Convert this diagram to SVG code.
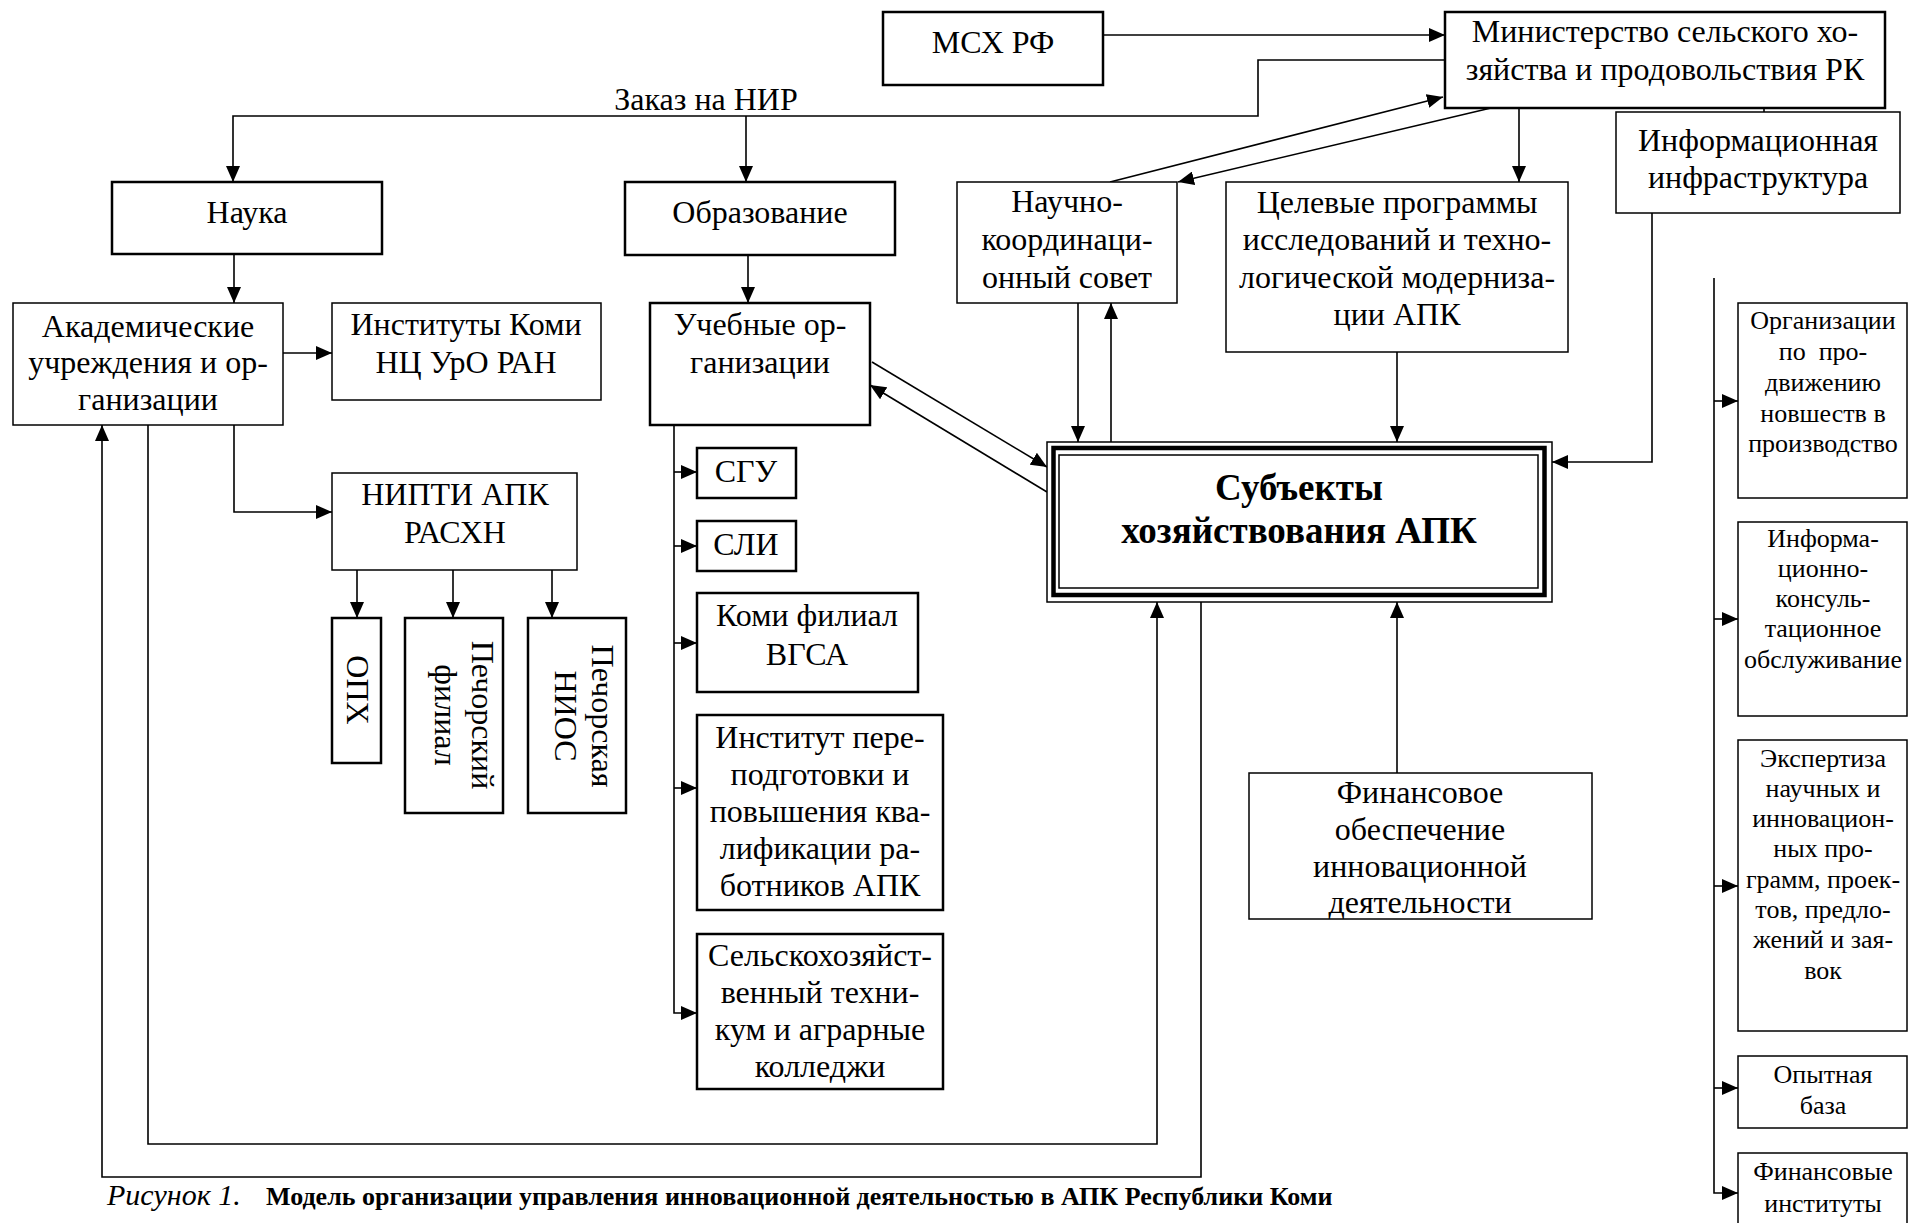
<svg xmlns="http://www.w3.org/2000/svg" width="1910" height="1223" viewBox="0 0 1910 1223">
<defs>
<style>
.b{fill:#fff;stroke:#000;stroke-width:1.5}
.bt{fill:#fff;stroke:#000;stroke-width:2.5}
.t{font-family:"Liberation Serif","Times New Roman",serif;font-size:32px;text-anchor:middle;fill:#000}
.r{font-family:"Liberation Serif","Times New Roman",serif;font-size:26px;text-anchor:middle;fill:#000}
.h{font-family:"Liberation Serif","Times New Roman",serif;font-size:37px;font-weight:bold;text-anchor:middle;fill:#000}
.c{fill:none;stroke:#000;stroke-width:1.6}
.cap{font-family:"Liberation Serif","Times New Roman",serif;font-size:26px;fill:#000}
.capi{font-family:"Liberation Serif","Times New Roman",serif;font-size:30px;font-style:italic;fill:#000}
</style>
<marker id="a" markerUnits="userSpaceOnUse" markerWidth="16" markerHeight="14" refX="16" refY="7" orient="auto">
<path d="M0,0 L16,7 L0,14 z" fill="#000"/>
</marker>
</defs>
<rect width="1910" height="1223" fill="#fff"/>

<g id="connectors">
<path class="c" d="M1103,35 H1445" marker-end="url(#a)"/>
<path class="c" d="M1445,60 H1258 V116 H233 V182" marker-end="url(#a)"/>
<path class="c" d="M746,116 V182" marker-end="url(#a)"/>
<path class="c" d="M1110,182 L1443,97" marker-end="url(#a)"/>
<path class="c" d="M1491,108 L1178,182" marker-end="url(#a)"/>
<path class="c" d="M1519,108 V182" marker-end="url(#a)"/>
<path class="c" d="M1764,108 V112"/>
<path class="c" d="M1078,303 V442" marker-end="url(#a)"/>
<path class="c" d="M1111,442 V303" marker-end="url(#a)"/>
<path class="c" d="M1397,352 V442" marker-end="url(#a)"/>
<path class="c" d="M1652,213 V462 H1552" marker-end="url(#a)"/>
<path class="c" d="M1397,773 V602" marker-end="url(#a)"/>
<path class="c" d="M872,362 L1047,467" marker-end="url(#a)"/>
<path class="c" d="M1047,492 L870,385" marker-end="url(#a)"/>
<path class="c" d="M1201,602 V1177 H102 V425" marker-end="url(#a)"/>
<path class="c" d="M148,425 V1144 H1157 V602" marker-end="url(#a)"/>
<path class="c" d="M234,254 V303" marker-end="url(#a)"/>
<path class="c" d="M283,353 H332" marker-end="url(#a)"/>
<path class="c" d="M234,425 V512 H332" marker-end="url(#a)"/>
<path class="c" d="M357,570 V618" marker-end="url(#a)"/>
<path class="c" d="M453,570 V618" marker-end="url(#a)"/>
<path class="c" d="M552,570 V618" marker-end="url(#a)"/>
<path class="c" d="M748,255 V303" marker-end="url(#a)"/>
<path class="c" d="M674,425 V1013 H697" marker-end="url(#a)"/>
<path class="c" d="M674,472 H697" marker-end="url(#a)"/>
<path class="c" d="M674,546 H697" marker-end="url(#a)"/>
<path class="c" d="M674,643 H697" marker-end="url(#a)"/>
<path class="c" d="M674,788 H697" marker-end="url(#a)"/>
<path class="c" d="M1714,278 V1193 H1738" marker-end="url(#a)"/>
<path class="c" d="M1714,401 H1738" marker-end="url(#a)"/>
<path class="c" d="M1714,619 H1738" marker-end="url(#a)"/>
<path class="c" d="M1714,886 H1738" marker-end="url(#a)"/>
<path class="c" d="M1714,1088 H1738" marker-end="url(#a)"/>
</g>

<text class="t" x="706" y="110">Заказ на НИР</text>

<g id="msh-rf">
<rect class="bt" x="883" y="12" width="220" height="73"/>
<text class="t" x="993" y="53">МСХ РФ</text>
</g>
<g id="ministry">
<rect class="bt" x="1445" y="12" width="440" height="96"/>
<text class="t" x="1665" y="42">Министерство сельского хо-</text>
<text class="t" x="1665" y="80">зяйства и продовольствия РК</text>
</g>
<g id="info-infra">
<rect class="b" x="1616" y="112" width="284" height="101"/>
<text class="t" x="1758" y="151">Информационная</text>
<text class="t" x="1758" y="188">инфраструктура</text>
</g>
<g id="nauka">
<rect class="bt" x="112" y="182" width="270" height="72"/>
<text class="t" x="247" y="223">Наука</text>
</g>
<g id="obrazovanie">
<rect class="bt" x="625" y="182" width="270" height="73"/>
<text class="t" x="760" y="223">Образование</text>
</g>
<g id="nks">
<rect class="b" x="957" y="182" width="220" height="121"/>
<text class="t" x="1067" y="212">Научно-</text>
<text class="t" x="1067" y="250">координаци-</text>
<text class="t" x="1067" y="288">онный совет</text>
</g>
<g id="programs">
<rect class="b" x="1226" y="182" width="342" height="170"/>
<text class="t" x="1397" y="213">Целевые программы</text>
<text class="t" x="1397" y="250">исследований и техно-</text>
<text class="t" x="1397" y="288">логической модерниза-</text>
<text class="t" x="1397" y="325">ции АПК</text>
</g>
<g id="academ">
<rect class="b" x="13" y="303" width="270" height="122"/>
<text class="t" x="148" y="337">Академические</text>
<text class="t" x="148" y="373">учреждения и ор-</text>
<text class="t" x="148" y="410">ганизации</text>
</g>
<g id="komi-inst">
<rect class="b" x="332" y="303" width="269" height="97"/>
<text class="t" x="466" y="335">Институты Коми</text>
<text class="t" x="466" y="373">НЦ УрО РАН</text>
</g>
<g id="ucheb">
<rect class="bt" x="650" y="303" width="220" height="122"/>
<text class="t" x="760" y="335">Учебные ор-</text>
<text class="t" x="760" y="373">ганизации</text>
</g>
<g id="nipti">
<rect class="b" x="332" y="473" width="245" height="97"/>
<text class="t" x="455" y="505">НИПТИ АПК</text>
<text class="t" x="455" y="543">РАСХН</text>
</g>
<g id="oph">
<rect class="bt" x="332" y="618" width="49" height="145"/>
<text class="t" transform="translate(347,690) rotate(90)">ОПХ</text>
</g>
<g id="pech-fil">
<rect class="bt" x="405" y="618" width="98" height="195"/>
<text class="t" transform="translate(472,715) rotate(90)">Печорский</text>
<text class="t" transform="translate(435,715) rotate(90)">филиал</text>
</g>
<g id="pech-nios">
<rect class="bt" x="528" y="618" width="98" height="195"/>
<text class="t" transform="translate(592,716) rotate(90)">Печорская</text>
<text class="t" transform="translate(555,716) rotate(90)">НИОС</text>
</g>
<g id="sgu">
<rect class="bt" x="697" y="448" width="99" height="50"/>
<text class="t" x="746" y="482">СГУ</text>
</g>
<g id="sli">
<rect class="bt" x="697" y="521" width="99" height="50"/>
<text class="t" x="746" y="555">СЛИ</text>
</g>
<g id="vgsa">
<rect class="bt" x="697" y="593" width="221" height="99"/>
<text class="t" x="807" y="626">Коми филиал</text>
<text class="t" x="807" y="665">ВГСА</text>
</g>
<g id="inst-perepodg">
<rect class="bt" x="697" y="715" width="246" height="195"/>
<text class="t" x="820" y="748">Институт пере-</text>
<text class="t" x="820" y="785">подготовки и</text>
<text class="t" x="820" y="822">повышения ква-</text>
<text class="t" x="820" y="859">лификации ра-</text>
<text class="t" x="820" y="896">ботников АПК</text>
</g>
<g id="tehnikum">
<rect class="bt" x="697" y="934" width="246" height="155"/>
<text class="t" x="820" y="966">Сельскохозяйст-</text>
<text class="t" x="820" y="1003">венный техни-</text>
<text class="t" x="820" y="1040">кум и аграрные</text>
<text class="t" x="820" y="1077">колледжи</text>
</g>
<g id="subjects">
<rect x="1047" y="442" width="505" height="160" fill="#fff" stroke="#000" stroke-width="1.5"/>
<rect x="1053.5" y="448" width="491" height="147" fill="none" stroke="#000" stroke-width="4.5"/>
<rect x="1059" y="455" width="479" height="133" fill="none" stroke="#000" stroke-width="1.5"/>
<text class="h" x="1299" y="500">Субъекты</text>
<text class="h" x="1299" y="543">хозяйствования АПК</text>
</g>
<g id="finance">
<rect class="b" x="1249" y="773" width="343" height="146"/>
<text class="t" x="1420" y="803">Финансовое</text>
<text class="t" x="1420" y="840">обеспечение</text>
<text class="t" x="1420" y="877">инновационной</text>
<text class="t" x="1420" y="913">деятельности</text>
</g>
<g id="promo">
<rect class="b" x="1738" y="303" width="169" height="195"/>
<text class="r" x="1823" y="329">Организации</text>
<text class="r" x="1823" y="360">по&#160; про-</text>
<text class="r" x="1823" y="391">движению</text>
<text class="r" x="1823" y="422">новшеств в</text>
<text class="r" x="1823" y="452">производство</text>
</g>
<g id="consult">
<rect class="b" x="1738" y="522" width="169" height="194"/>
<text class="r" x="1823" y="547">Информа-</text>
<text class="r" x="1823" y="577">ционно-</text>
<text class="r" x="1823" y="607">консуль-</text>
<text class="r" x="1823" y="637">тационное</text>
<text class="r" x="1823" y="668">обслуживание</text>
</g>
<g id="expertise">
<rect class="b" x="1738" y="740" width="169" height="291"/>
<text class="r" x="1823" y="767">Экспертиза</text>
<text class="r" x="1823" y="797">научных и</text>
<text class="r" x="1823" y="827">инновацион-</text>
<text class="r" x="1823" y="857">ных про-</text>
<text class="r" x="1823" y="888">грамм, проек-</text>
<text class="r" x="1823" y="918">тов, предло-</text>
<text class="r" x="1823" y="948">жений и зая-</text>
<text class="r" x="1823" y="979">вок</text>
</g>
<g id="opyt">
<rect class="b" x="1738" y="1056" width="169" height="72"/>
<text class="r" x="1823" y="1083">Опытная</text>
<text class="r" x="1823" y="1114">база</text>
</g>
<g id="fin-inst">
<rect class="b" x="1738" y="1153" width="169" height="80"/>
<text class="r" x="1823" y="1180">Финансовые</text>
<text class="r" x="1823" y="1212">институты</text>
</g>

<text class="capi" x="107" y="1205">Рисунок 1.</text>
<text class="cap" x="266" y="1205" font-weight="bold">Модель организации управления инновационной деятельностью в АПК Республики Коми</text>
</svg>
